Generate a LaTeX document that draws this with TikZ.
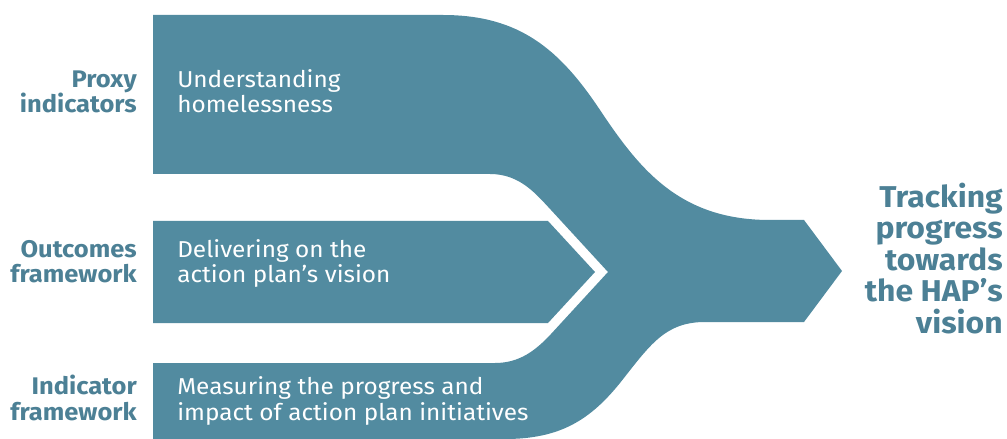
\documentclass[tikz,border=0pt]{standalone}
\usepackage{fontspec}
\setmainfont{Fira Sans}[FakeStretch=1.06]
\usepackage{tikz}
\usetikzlibrary{positioning}
\usepackage{xcolor}
\definecolor{hapteal}{RGB}{82,139,160}
\definecolor{hapdark}{RGB}{76,128,149}

\begin{document}
\begin{tikzpicture}[x=0.025cm,y=-0.025cm]
	\useasboundingbox (0,0) rectangle (1007,439);

	\begin{scope}[every path/.style={fill=hapteal}]
		\path (153,15) -- (443,15) .. controls (520,15) and (560,50) .. (600,110) .. controls (640,170) and (680,220) .. (770,220) -- (804,220) -- (842,271) -- (804,322) -- (705,322) .. controls (665,322) and (650,345) .. (620,383) .. controls (590,420) and (560,439) .. (505,439) -- (153,439) -- (153,363) -- (495,363) .. controls (520,363) and (536,350) .. (551,334) -- (608,272) -- (551,210) .. controls (536,194) and (520,174) .. (490,174) -- (153,174) -- cycle;
		\path (153,221) -- (548,221) -- (595,272) -- (548,323) -- (153,323) -- cycle;
	\end{scope}

	\begin{scope}[every node/.style={inner sep=0pt,font=\fontsize{16.35}{17.8}\selectfont}]
		\node[white,align=left,anchor=base west] (Under) at (177,113) {Understanding\\homelessness};
		\node[white,align=left,anchor=base west] (Deliver) at (177,283) {Delivering on the\\action plan's vision};
		\node[white,align=left,anchor=base west] (Measure) at (177,420) {Measuring the progress and\\impact of action plan initiatives};

		\node[left=1cm of Under.base west,anchor=base east,align=right,hapdark,font=\bfseries\fontsize{17.1}{17.8}\selectfont] (Proxy) {Proxy\\indicators};
		\node[left=1cm of Deliver.base west,anchor=base east,align=right,hapdark,font=\bfseries\fontsize{17.1}{17.8}\selectfont] (Outcomes) {Outcomes\\framework};
		\node[left=1cm of Measure.base west,anchor=base east,align=right,hapdark,font=\bfseries\fontsize{17.1}{17.8}\selectfont] (Indicator) {Indicator\\framework};

		\node[align=right,anchor=base east,hapdark,font=\bfseries\fontsize{21.4}{22.4}\selectfont] (Track) at (1003,333) {Tracking\\progress\\towards\\the HAP's\\vision};
	\end{scope}
\end{tikzpicture}
\end{document}
